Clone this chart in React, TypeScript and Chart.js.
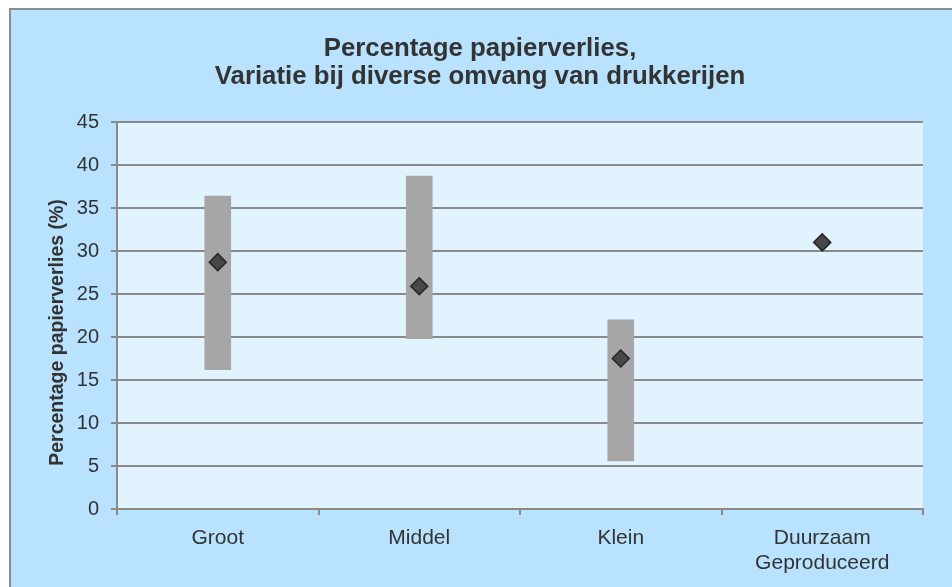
import React, { useEffect, useRef } from "react";
import { Chart, registerables } from "chart.js";

Chart.register(...registerables);

const categories: (string | string[])[] = ["Groot", "Middel", "Klein", ["Duurzaam", "Geproduceerd"]];
const rangeLow: (number | null)[] = [16.2, 19.8, 5.6, null];
const rangeHigh: (number | null)[] = [36.4, 38.7, 22.0, null];
const averages: number[] = [28.7, 25.9, 17.5, 31.0];
const yTicks: number[] = [0, 5, 10, 15, 20, 25, 30, 35, 40, 45];

const titleLines = ["Percentage papierverlies,", "Variatie bij diverse omvang van drukkerijen"];
const yTitle = "Percentage papierverlies (%)";

const FONT = "'Liberation Sans', Arial, sans-serif";
const TEXT = "#333333";
const GRID = "#8a8a8a";

const plotBg = {
  id: "plotBg",
  beforeDraw(chart: any) {
    const { ctx, chartArea } = chart;
    if (!chartArea) return;
    ctx.save();
    ctx.fillStyle = "#e1f3fe";
    ctx.fillRect(chartArea.left, chartArea.top, chartArea.right - chartArea.left, chartArea.bottom - chartArea.top);
    ctx.restore();
  },
};

// y-axis title drawn as canvas text, slightly below the axis centre like the reference
const yTitlePlugin = {
  id: "yTitlePlugin",
  afterDraw(chart: any) {
    const { ctx, chartArea } = chart;
    if (!chartArea) return;
    ctx.save();
    ctx.translate(58, (chartArea.top + chartArea.bottom) / 2 + 17);
    ctx.rotate(-Math.PI / 2);
    ctx.fillStyle = TEXT;
    ctx.font = `bold 19.5px ${FONT}`;
    ctx.textAlign = "center";
    ctx.textBaseline = "middle";
    ctx.fillText(yTitle, 0, 0);
    ctx.restore();
  },
};

export default function App() {
  const ref = useRef<HTMLCanvasElement | null>(null);

  useEffect(() => {
    if (!ref.current) return;
    const bars = rangeLow.map((lo, i) => (lo === null || rangeHigh[i] === null ? null : [lo, rangeHigh[i] as number]));
    const chart = new Chart(ref.current, {
      type: "bar",
      data: {
        labels: categories as any,
        datasets: [
          {
            type: "line",
            label: "Gemiddeld",
            data: averages,
            showLine: false,
            pointStyle: "rectRot",
            pointRadius: 8.5,
            pointBackgroundColor: "#474747",
            pointBorderColor: "#262626",
            pointBorderWidth: 1.5,
            order: 0,
          } as any,
          {
            type: "bar",
            label: "Bereik",
            data: bars as any,
            backgroundColor: "#a6a6a6",
            borderWidth: 0,
            barThickness: 26,
            order: 1,
          } as any,
        ],
      },
      options: {
        animation: false,
        responsive: false,
        maintainAspectRatio: false,
        layout: { padding: { left: 37, right: 29, top: 0, bottom: 0 } },
        plugins: {
          legend: { display: false },
          tooltip: { enabled: false },
          title: {
            display: true,
            text: titleLines,
            color: TEXT,
            font: { family: FONT, size: 25.8, weight: "bold", lineHeight: 28 / 25.8 },
            padding: { top: 35, bottom: 31 },
          },
        },
        scales: {
          x: {
            offset: true,
            afterFit: (s: any) => {
              s.height = 78;
            },
            grid: {
              offset: true,
              drawOnChartArea: false,
              drawTicks: true,
              tickLength: 6,
              color: GRID,
              lineWidth: 2,
            },
            border: { display: true, color: GRID, width: 2 },
            ticks: {
              color: TEXT,
              font: { family: FONT, size: 21, lineHeight: 25 / 21 },
              padding: 11,
              maxRotation: 0,
              autoSkip: false,
            },
          },
          y: {
            min: 0,
            max: 45,
            afterFit: (s: any) => {
              s.width = 80;
            },
            afterBuildTicks: (s: any) => {
              s.ticks = yTicks.map((v) => ({ value: v }));
            },
            grid: { color: GRID, lineWidth: 2, tickLength: 6, drawTicks: true },
            border: { display: true, color: GRID, width: 2 },
            ticks: {
              color: TEXT,
              font: { family: FONT, size: 20 },
              padding: 12,
              stepSize: 5,
            },
            title: { display: false },
          },
        },
      },
      plugins: [plotBg, yTitlePlugin],
    });
    return () => chart.destroy();
  }, []);

  return (
    <div style={{ position: "absolute", left: 0, top: 0, width: 952, height: 587, overflow: "hidden", background: "#ffffff" }}>
      <div
        style={{
          position: "absolute",
          left: 9,
          top: 8,
          width: 952,
          height: 587,
          background: "#b8e2fe",
          borderLeft: "2px solid #8c8c8c",
          borderTop: "2px solid #8c8c8c",
        }}
      />
      <canvas ref={ref} width={952} height={587} style={{ position: "absolute", left: 0, top: 0, width: 952, height: 587 }} />
    </div>
  );
}
